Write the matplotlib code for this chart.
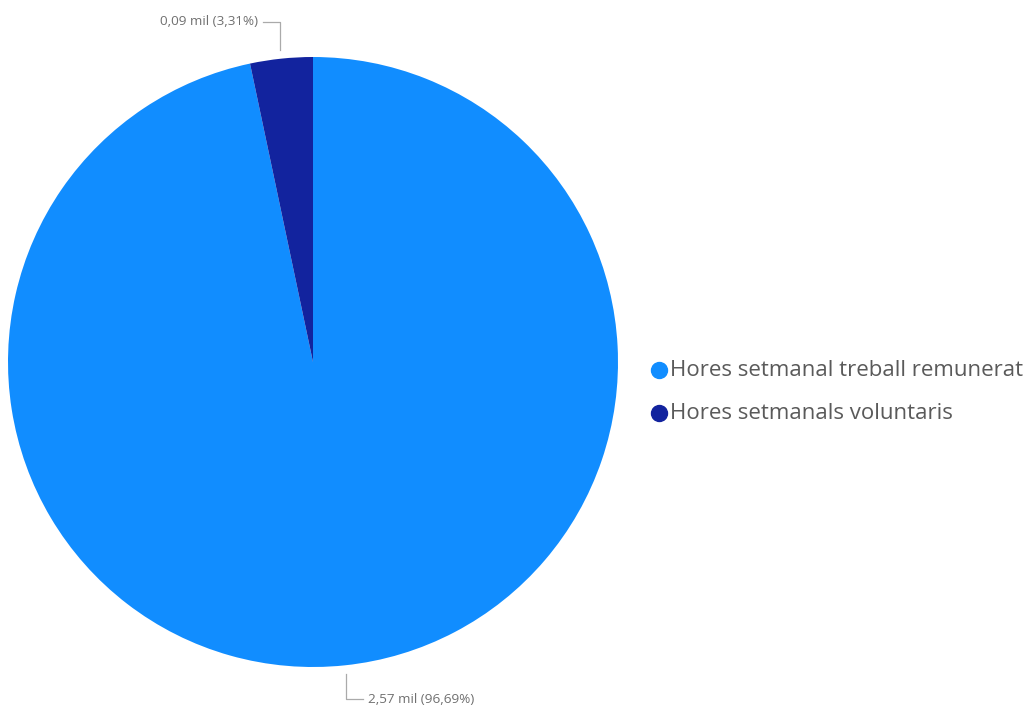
import numpy as np
import matplotlib
matplotlib.use("Agg")
import matplotlib.pyplot as plt
from matplotlib.lines import Line2D

plt.rcParams['font.family'] = ['Open Sans', 'DejaVu Sans']

categories = ["Hores setmanal treball remunerat", "Hores setmanals voluntaris"]
hours = [2570, 88]
colors = ["#118DFF", "#12239E"]

W, H = 1027, 711
fig = plt.figure(figsize=(W / 100, H / 100), dpi=100)

cx, cy, r = 313, 362, 305
ax = fig.add_axes([(cx - r) / W, (H - cy - r) / H, 2 * r / W, 2 * r / H])
wedges, _ = ax.pie(hours, colors=colors, startangle=90, counterclock=False,
                   radius=1.0, wedgeprops=dict(linewidth=0))
ax.set_xlim(-1, 1)
ax.set_ylim(-1, 1)
ax.axis("off")

total = sum(hours)
line_col = "#AAAAAA"
text_col = "#707070"


def fmt(v):
    return f"{v / 1000:.2f} mil ({100 * v / total:.2f}%)".replace(".", ",")


for w, v in zip(wedges, hours):
    mid = np.deg2rad((w.theta1 + w.theta2) / 2)
    x0, y0 = 1.03 * np.cos(mid), 1.03 * np.sin(mid)
    if y0 > 0:
        y1 = 1.115
        x1 = x0 - 0.057
        ha = "right"
        tx = x1 - 0.016
    else:
        y1 = -1.105
        x1 = x0 + 0.057
        ha = "left"
        tx = x1 + 0.016
    ax.add_line(Line2D([x0, x0, x1], [y0, y1, y1], color=line_col, lw=0.9,
                       clip_on=False))
    ax.text(tx, y1, fmt(v), ha=ha, va="center", fontsize=9.7, color=text_col,
            clip_on=False)

# legend: round markers followed by the series names
for i, (name, c) in enumerate(zip(categories, colors)):
    ypx = 370 + 43 * i
    fig.add_artist(Line2D([659 / W], [1 - ypx / H], marker="o",
                          linestyle="none", markersize=11.5,
                          markerfacecolor=c, markeredgecolor=c,
                          transform=fig.transFigure))
    fig.text(670 / W, 1 - ypx / H, name, ha="left", va="center",
             fontsize=16, color="#5A5A5A")

fig.savefig("out.png", dpi=100, facecolor="white")
